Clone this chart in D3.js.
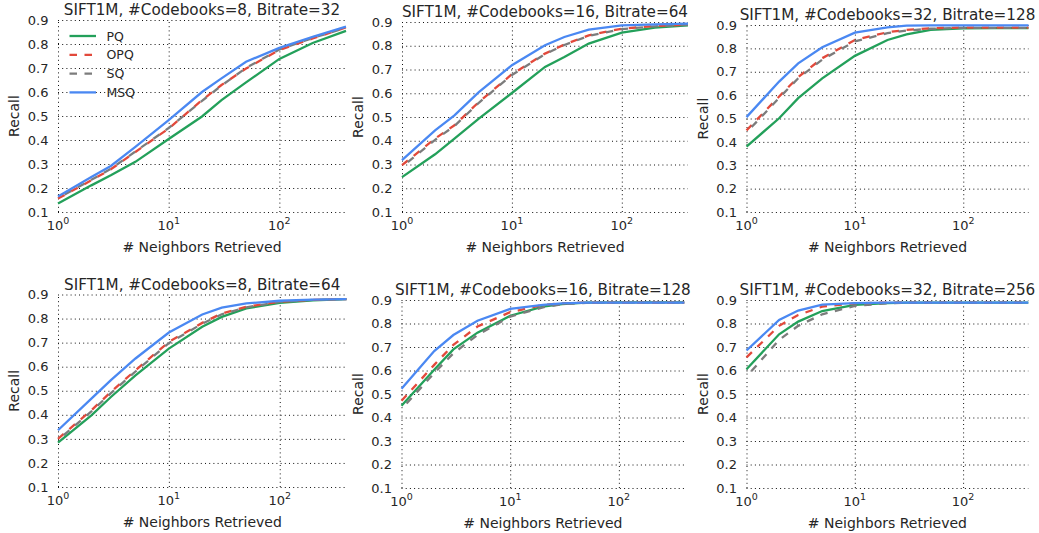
<!DOCTYPE html>
<html><head><meta charset="utf-8">
<script src="https://cdn.jsdelivr.net/npm/d3@7"></script>
<style>
body{margin:0;background:#fff;}
svg{display:block;font-family:"DejaVu Sans",sans-serif;}
</style></head>
<body><svg id="c" width="1039" height="533"></svg>
<script>
// ---- data ----
const neighbors = [1, 2, 3, 5, 10, 20, 30, 50, 100, 200, 400];
const methods = ["PQ", "OPQ", "SQ", "MSQ"];
const titles = [
  "SIFT1M, #Codebooks=8, Bitrate=32",
  "SIFT1M, #Codebooks=16, Bitrate=64",
  "SIFT1M, #Codebooks=32, Bitrate=128",
  "SIFT1M, #Codebooks=8, Bitrate=64",
  "SIFT1M, #Codebooks=16, Bitrate=128",
  "SIFT1M, #Codebooks=32, Bitrate=256"
];
const yTicks = [0.1, 0.2, 0.3, 0.4, 0.5, 0.6, 0.7, 0.8, 0.9];
const xTicks = [1, 10, 100];
const xTickExp = ["0", "1", "2"];

const pq_8_32   = [0.135,0.211,0.253,0.309,0.404,0.498,0.566,0.640,0.738,0.804,0.855];
const opq_8_32  = [0.156,0.232,0.278,0.350,0.448,0.566,0.629,0.698,0.775,0.823,0.869];
const sq_8_32   = [0.158,0.234,0.280,0.352,0.450,0.563,0.627,0.700,0.777,0.825,0.868];
const msq_8_32  = [0.165,0.246,0.292,0.371,0.483,0.600,0.657,0.726,0.784,0.830,0.872];

const pq_16_64  = [0.247,0.343,0.409,0.493,0.601,0.711,0.753,0.809,0.855,0.876,0.886];
const opq_16_64 = [0.297,0.409,0.465,0.563,0.680,0.767,0.805,0.844,0.872,0.883,0.889];
const sq_16_64  = [0.290,0.404,0.462,0.560,0.677,0.765,0.803,0.842,0.870,0.882,0.888];
const msq_16_64 = [0.318,0.444,0.507,0.605,0.718,0.802,0.837,0.868,0.886,0.890,0.893];

const pq_32_128  = [0.380,0.501,0.587,0.672,0.768,0.836,0.860,0.879,0.886,0.887,0.887];
const opq_32_128 = [0.449,0.594,0.677,0.758,0.836,0.869,0.879,0.886,0.889,0.889,0.889];
const sq_32_128  = [0.440,0.588,0.672,0.752,0.830,0.865,0.876,0.884,0.888,0.888,0.888];
const msq_32_128 = [0.506,0.658,0.736,0.805,0.867,0.890,0.897,0.898,0.898,0.898,0.898];

const pq_8_64   = [0.284,0.398,0.474,0.564,0.675,0.766,0.807,0.842,0.865,0.876,0.881];
const opq_8_64  = [0.300,0.419,0.495,0.585,0.703,0.782,0.821,0.849,0.870,0.878,0.881];
const sq_8_64   = [0.295,0.414,0.490,0.580,0.698,0.779,0.818,0.847,0.869,0.878,0.881];
const msq_8_64  = [0.336,0.467,0.544,0.634,0.742,0.817,0.845,0.863,0.874,0.879,0.881];

const pq_16_128  = [0.450,0.603,0.690,0.761,0.833,0.872,0.883,0.889,0.890,0.890,0.890];
const opq_16_128 = [0.471,0.624,0.709,0.787,0.848,0.879,0.886,0.889,0.889,0.889,0.889];
const sq_16_128  = [0.436,0.589,0.673,0.751,0.829,0.869,0.882,0.888,0.889,0.889,0.889];
const msq_16_128 = [0.522,0.683,0.751,0.812,0.862,0.879,0.886,0.889,0.889,0.889,0.889];

const pq_32_256  = [0.605,0.754,0.808,0.853,0.879,0.887,0.889,0.889,0.889,0.889,0.889];
const opq_32_256 = [0.656,0.790,0.836,0.872,0.886,0.889,0.889,0.889,0.889,0.889,0.889];
const sq_32_256  = [0.574,0.730,0.790,0.839,0.875,0.886,0.889,0.889,0.889,0.889,0.889];
const msq_32_256 = [0.685,0.815,0.855,0.880,0.887,0.889,0.889,0.889,0.889,0.889,0.889];

const panelSeries = [
  [pq_8_32, opq_8_32, sq_8_32, msq_8_32],
  [pq_16_64, opq_16_64, sq_16_64, msq_16_64],
  [pq_32_128, opq_32_128, sq_32_128, msq_32_128],
  [pq_8_64, opq_8_64, sq_8_64, msq_8_64],
  [pq_16_128, opq_16_128, sq_16_128, msq_16_128],
  [pq_32_256, opq_32_256, sq_32_256, msq_32_256]
];

// ---- layout / style ----
const boxes = [
  {l:58, r:346, t:20, b:212},
  {l:402, r:688, t:22, b:212},
  {l:746.5, r:1028.5, t:25, b:212},
  {l:58, r:346.5, t:294.5, b:487},
  {l:401.5, r:684.3, t:300, b:488},
  {l:746.5, r:1028.3, t:300, b:488}
];
const colors = {PQ:"#23a05a", OPQ:"#e2493b", SQ:"#7c7c7c", MSQ:"#4a88f2"};
const dashes = {PQ:null, OPQ:"7.5,7.5", SQ:"7.5,7.5", MSQ:null};
const dashOffsets = {PQ:0, OPQ:0, SQ:7.5, MSQ:0};
const textColor = "#262626";

const svg = d3.select("#c");

boxes.forEach((bx, pi) => {
  const x = d3.scaleLog().domain([1, 400]).range([bx.l, bx.r]);
  const y = d3.scaleLinear().domain([0.1, 0.9]).range([bx.b, bx.t]);
  const g = svg.append("g");

  const gx = g.append("g").attr("transform", `translate(0,${bx.b})`)
    .call(d3.axisBottom(x).tickValues(xTicks).tickSize(-(bx.b - bx.t)).tickFormat(""));
  const gy = g.append("g").attr("transform", `translate(${bx.l},0)`)
    .call(d3.axisLeft(y).tickValues(yTicks).tickSize(-(bx.r - bx.l)).tickFormat(""));
  [gx, gy].forEach(a => {
    a.select(".domain").remove();
    a.selectAll(".tick line").attr("stroke", "#111").attr("stroke-width", 1)
      .attr("stroke-dasharray", "1,3.2");
  });

  g.selectAll(".ylab").data(yTicks).enter().append("text")
    .attr("x", bx.l - 9.5).attr("y", d => y(d)).attr("dy", "0.36em")
    .attr("text-anchor", "end").attr("font-size", 13).attr("fill", textColor)
    .text(d => d.toFixed(1));

  xTicks.forEach((v, i) => {
    const t = g.append("text").attr("x", x(v)).attr("y", bx.b + 18)
      .attr("text-anchor", "middle").attr("fill", textColor).attr("font-size", 13);
    t.append("tspan").text("10");
    t.append("tspan").attr("font-size", 9.5).attr("dy", -6).text(xTickExp[i]);
  });

  g.append("text").attr("x", (bx.l + bx.r) / 2).attr("y", bx.b + 40)
    .attr("text-anchor", "middle").attr("font-size", 14).attr("fill", textColor)
    .text("# Neighbors Retrieved");
  g.append("text").attr("transform", `translate(${bx.l - 39},${(bx.t + bx.b) / 2}) rotate(-90)`)
    .attr("text-anchor", "middle").attr("font-size", 14).attr("fill", textColor)
    .text("Recall");

  g.append("text").attr("x", (bx.l + bx.r) / 2).attr("y", bx.t - 5)
    .attr("text-anchor", "middle").attr("font-size", 15.2).attr("fill", textColor)
    .text(titles[pi]);

  const line = d3.line().x(d => x(d[0])).y(d => y(d[1]));
  methods.forEach((m, mi) => {
    const pts = neighbors.map((n, k) => [n, panelSeries[pi][mi][k]]);
    g.append("path").datum(pts).attr("d", line)
      .attr("fill", "none").attr("stroke", colors[m]).attr("stroke-width", 2.3)
      .attr("stroke-dasharray", dashes[m]).attr("stroke-dashoffset", dashOffsets[m]);
  });

  if (pi === 0) {
    const legY = [36, 54.8, 73.6, 92.4];
    methods.forEach((m, mi) => {
      g.append("line").attr("x1", 69.5).attr("x2", 96).attr("y1", legY[mi]).attr("y2", legY[mi])
        .attr("stroke", colors[m]).attr("stroke-width", 2.3).attr("stroke-dasharray", dashes[m]);
      g.append("text").attr("x", 106.5).attr("y", legY[mi]).attr("dy", "0.36em")
        .attr("font-size", 12.5).attr("fill", textColor).text(m);
    });
  }
});
</script>
</body></html>
